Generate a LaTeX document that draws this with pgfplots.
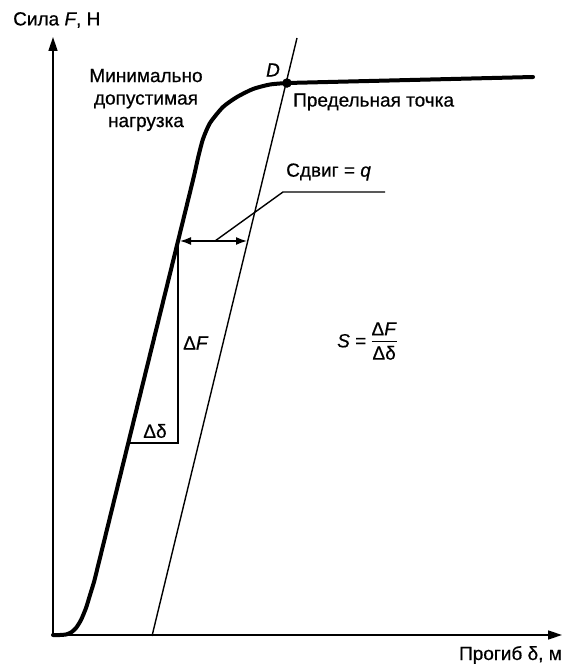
\documentclass[border=0pt]{standalone}
\usepackage{fontspec}
\setmainfont{Liberation Sans}[UprightFeatures={FakeBold=0.6},ItalicFeatures={FakeBold=0.6}]
\usepackage{pgfplots}
\pgfplotsset{compat=1.18}
\usetikzlibrary{arrows.meta}
\newcommand{\lbl}{\fontsize{19}{22.5}\selectfont}

\begin{document}
\begin{tikzpicture}[font=\lbl]
\path[use as bounding box] (0,0) rectangle (564pt,665pt);
\begin{axis}[at={(0,0)},anchor=south west,
  width=564pt,height=665pt,scale only axis,
  xmin=0,xmax=564,ymin=0,ymax=665,
  hide axis, clip=false]
% axes
\addplot[line width=1.6pt, -{Triangle[length=14pt,width=9pt]}] coordinates {(53,30) (562,30)};
\addplot[line width=1.6pt, -{Triangle[length=14pt,width=9pt]}] coordinates {(53,30) (53,628)};
% load-deflection curve
\addplot[line width=4pt, smooth, tension=0.4, line cap=round, line join=round] coordinates {
 (53,30) (60,30) (66,30.5) (71,32.5) (76,37) (81,45) (86,57) (90,70) (94,83) (97,95)
 (120,188.4) (145,290) (170,391.4) (193,485) (198,507) (203,526) (210,542) (223,558)
 (237,568) (253,576) (270,580.5) (287,582)};
\addplot[line width=4pt, line cap=round] coordinates {(287,582) (533,588)};
% offset line
\addplot[line width=1.4pt] coordinates {(152,29) (297,627)};
% slope triangle
\addplot[line width=1.4pt] coordinates {(128.3,222) (178,222) (178,420)};
% offset arrow
\addplot[line width=1.5pt, {Latex[length=11pt,width=8pt]}-{Latex[length=11pt,width=8pt]}] coordinates {(180,424) (247,424)};
% leader
\addplot[line width=1.4pt] coordinates {(215,424) (283,473) (385,473)};
% point D
\addplot[only marks, mark=*, mark size=4.5pt] coordinates {(287,582)};
% texts
\node[font=\lbl, inner sep=0pt, anchor=west] at (axis cs:13,645) {Сила \textit{F}, Н};
\node[font=\lbl, inner sep=0pt, align=center] at (axis cs:146,565) {Минимально\\допустимая\\нагрузка};
\node[font=\lbl, inner sep=0pt] at (axis cs:273,595) {\textit{D}};
\node[font=\lbl, inner sep=0pt, anchor=west] at (axis cs:293,563) {Предельная точка};
\node[font=\lbl, inner sep=0pt, anchor=west] at (axis cs:286,493) {Сдвиг = \textit{q}};
\node[font=\lbl, inner sep=0pt, anchor=west] at (axis cs:183,322) {Δ\textit{F}};
\node[font=\lbl, inner sep=0pt] at (axis cs:155,234) {Δδ};
\node[font=\lbl, inner sep=0pt, anchor=west] at (axis cs:337,322) {\textit{S} = \begin{tabular}{@{}c@{}}Δ\textit{F}\\[-1pt]\hline\rule{0pt}{18pt}Δδ\end{tabular}};
\node[font=\lbl, inner sep=0pt, anchor=base east] at (axis cs:562,5) {Прогиб δ, м};
\end{axis}
\end{tikzpicture}
\end{document}
